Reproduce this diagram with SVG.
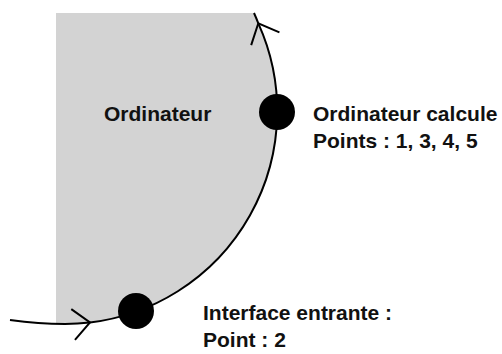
<svg xmlns="http://www.w3.org/2000/svg" width="502" height="354" viewBox="0 0 502 354">
  <style>
    .lbl { font-family: "Liberation Sans", Arial, sans-serif; font-weight: bold; font-size: 21px; fill: #111; }
    .edge { fill: none; stroke: #000; stroke-width: 2; }
    .dot { fill: #000; }
  </style>
  <defs>
    <marker id="open" markerUnits="userSpaceOnUse" markerWidth="40" markerHeight="40" refX="0" refY="0" orient="auto" overflow="visible">
      <path d="M-17,-15.5 L0,0 L-17,15.5" fill="none" stroke="#000" stroke-width="2"/>
    </marker>
  </defs>
  <rect width="502" height="354" fill="#fff"/>
  <g id="ordinateur">
    <path d="M56,13 L254,13 A213,213 0 0 1 56,323.8 Z" fill="#d3d3d3"/>
    <text class="lbl" x="104" y="121">Ordinateur</text>
  </g>
  <g id="connectors">
    <path class="edge" d="M10,320 C28,322.5 47,324 65,324 A213,213 0 0 0 90,322.5" marker-end="url(#open)"/>
    <path class="edge" d="M90,322.5 A213,213 0 0 0 258.3,23.3" marker-end="url(#open)"/>
    <path class="edge" d="M258.3,23.3 A213,213 0 0 0 254,13"/>
  </g>
  <g id="ordinateur-calcule">
    <circle class="dot" cx="277" cy="112" r="18"/>
    <text class="lbl" x="313" y="121">Ordinateur calcule</text>
    <text class="lbl" x="313" y="148">Points : 1, 3, 4, 5</text>
  </g>
  <g id="interface-entrante">
    <circle class="dot" cx="136" cy="311" r="18"/>
    <text class="lbl" x="203" y="320">Interface entrante :</text>
    <text class="lbl" x="203" y="347">Point : 2</text>
  </g>
</svg>
